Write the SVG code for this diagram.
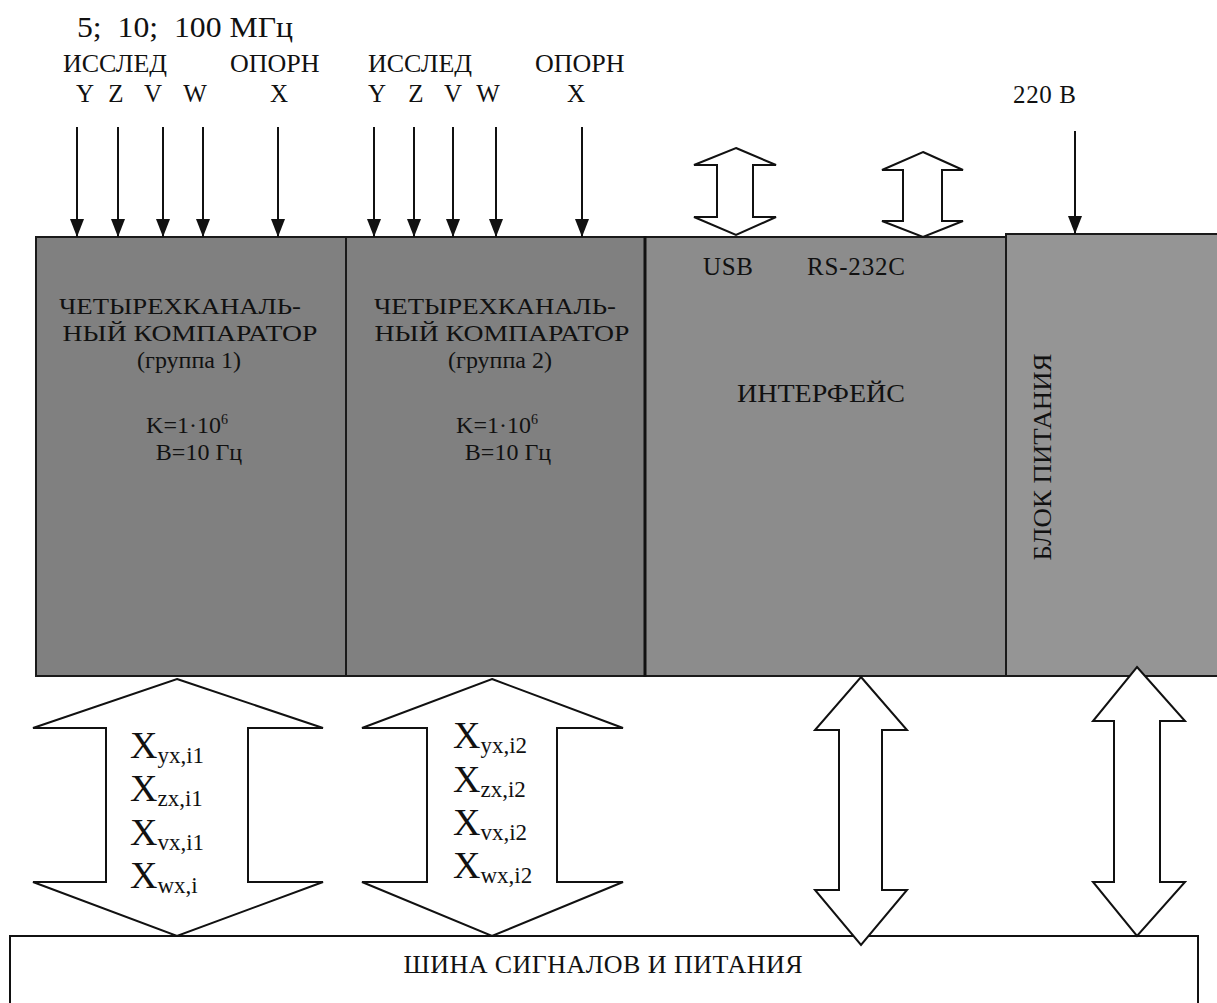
<svg xmlns="http://www.w3.org/2000/svg" width="1217" height="1003" viewBox="0 0 1217 1003">
<style>
text{font-family:"Liberation Serif","Times New Roman","DejaVu Serif",serif;fill:#111}
.t24{font-size:24px}
.t25{font-size:25px}
.t26{font-size:26px}
.mid{text-anchor:middle}
.box{stroke:#1a1a1a;stroke-width:2}
.ln{stroke:#111;stroke-width:2;fill:none}
.dbl{fill:#fff;stroke:#111;stroke-width:2;stroke-linejoin:miter}
.xl{font-size:38px}
.sub{font-size:23px}
</style>
<defs>
<marker id="ah" viewBox="0 0 18 14" refX="18" refY="7" markerWidth="18" markerHeight="14" markerUnits="userSpaceOnUse" orient="auto">
<path d="M0,0 L18,7 L0,14 Z" fill="#111"/>
</marker>
</defs>
<rect width="1217" height="1003" fill="#fff"/>

<g id="labels-top">
<text x="77" y="37" xml:space="preserve" style="font-size:30px" textLength="216" lengthAdjust="spacingAndGlyphs">5;  10;  100 МГц</text>
<text class="t26" x="63" y="72">ИССЛЕД</text>
<text class="t26" x="230" y="72">ОПОРН</text>
<text class="t26" x="368" y="72">ИССЛЕД</text>
<text class="t26" x="535" y="72">ОПОРН</text>
<g class="t25 mid">
<text x="85" y="102">Y</text><text x="116" y="102">Z</text><text x="153" y="102">V</text><text x="195" y="102">W</text><text x="279" y="102">X</text>
<text x="377" y="102">Y</text><text x="416" y="102">Z</text><text x="453" y="102">V</text><text x="488" y="102">W</text><text x="576" y="102">X</text>
</g>
<text class="t25" x="1013" y="103" textLength="63">220 В</text>
</g>

<g id="bus">
<rect x="10" y="936" width="1188" height="90" fill="#fff" stroke="#111" stroke-width="2"/>
<text class="t26 mid" x="603" y="973" textLength="399">ШИНА СИГНАЛОВ И ПИТАНИЯ</text>
</g>

<g id="comparator1">
<rect class="box" x="36" y="237" width="310" height="439" fill="#808080"/>
<g class="t24 mid">
<text x="180" y="314" textLength="242" lengthAdjust="spacingAndGlyphs">ЧЕТЫРЕХКАНАЛЬ-</text>
<text x="190" y="341" textLength="255" lengthAdjust="spacingAndGlyphs">НЫЙ КОМПАРАТОР</text>
<text x="189" y="368">(группа 1)</text>
<text x="187" y="433">K=1·10<tspan dy="-9" style="font-size:14px">6</tspan></text>
<text x="199" y="460">B=10 Гц</text>
</g>
</g>

<g id="comparator2">
<rect class="box" x="346" y="237" width="299" height="439" fill="#808080"/>
<g class="t24 mid">
<text x="495" y="314" textLength="242" lengthAdjust="spacingAndGlyphs">ЧЕТЫРЕХКАНАЛЬ-</text>
<text x="502" y="341" textLength="255" lengthAdjust="spacingAndGlyphs">НЫЙ КОМПАРАТОР</text>
<text x="500" y="368">(группа 2)</text>
<text x="497" y="433">K=1·10<tspan dy="-9" style="font-size:14px">6</tspan></text>
<text x="508" y="460">B=10 Гц</text>
</g>
</g>

<g id="interface">
<rect class="box" x="645" y="237" width="361" height="439" fill="#8c8c8c"/>
<line x1="645" y1="236" x2="645" y2="677" stroke="#111" stroke-width="3"/>
<text class="t25" x="703" y="275" textLength="50">USB</text>
<text class="t25" x="807" y="275" textLength="98">RS-232C</text>
<text class="t26" x="737" y="402" textLength="168" lengthAdjust="spacingAndGlyphs">ИНТЕРФЕЙС</text>
</g>

<g id="power">
<rect class="box" x="1006" y="234" width="215" height="442" fill="#959595"/>
<text class="t26 mid" transform="translate(1051,457) rotate(-90)" textLength="207" lengthAdjust="spacingAndGlyphs">БЛОК ПИТАНИЯ</text>
</g>

<g id="connectors">
<line class="ln" x1="77" y1="127" x2="77" y2="237" marker-end="url(#ah)"/>
<line class="ln" x1="118" y1="127" x2="118" y2="237" marker-end="url(#ah)"/>
<line class="ln" x1="163" y1="127" x2="163" y2="237" marker-end="url(#ah)"/>
<line class="ln" x1="203" y1="127" x2="203" y2="237" marker-end="url(#ah)"/>
<line class="ln" x1="278" y1="127" x2="278" y2="237" marker-end="url(#ah)"/>
<line class="ln" x1="374" y1="127" x2="374" y2="237" marker-end="url(#ah)"/>
<line class="ln" x1="414" y1="127" x2="414" y2="237" marker-end="url(#ah)"/>
<line class="ln" x1="453" y1="127" x2="453" y2="237" marker-end="url(#ah)"/>
<line class="ln" x1="496" y1="127" x2="496" y2="237" marker-end="url(#ah)"/>
<line class="ln" x1="582" y1="127" x2="582" y2="237" marker-end="url(#ah)"/>
<line class="ln" x1="1075" y1="131" x2="1075" y2="234" marker-end="url(#ah)"/>
<polygon class="dbl" points="736,148 776,165 753,165 753,217 776,217 736,235 694,217 717,217 717,165 694,165"/>
<polygon class="dbl" points="923,152 963,170 942,170 942,221 963,221 923,237 882,221 903,221 903,170 882,170"/>
<polygon class="dbl" points="177,679 323,728 248,728 248,882 323,882 177,936 33,882 106,882 106,728 33,728"/>
<polygon class="dbl" points="492,679 623,728 557,728 557,882 623,882 492,936 362,882 427,882 427,728 362,728"/>
<polygon class="dbl" points="861,677 907,730 882,730 882,890 907,890 861,945 815,890 839,890 839,730 815,730"/>
<polygon class="dbl" points="1137,667 1185,721 1160,721 1160,882 1185,882 1137,936 1093,882 1114,882 1114,721 1093,721"/>
</g>

<g id="bus-labels1">
<text x="130" y="758"><tspan class="xl">X</tspan><tspan class="sub" dy="5">yx,i1</tspan></text>
<text x="130" y="801"><tspan class="xl">X</tspan><tspan class="sub" dy="5">zx,i1</tspan></text>
<text x="130" y="845"><tspan class="xl">X</tspan><tspan class="sub" dy="5">vx,i1</tspan></text>
<text x="130" y="888"><tspan class="xl">X</tspan><tspan class="sub" dy="5">wx,i</tspan></text>
</g>
<g id="bus-labels2">
<text x="453" y="748"><tspan class="xl">X</tspan><tspan class="sub" dy="5">yx,i2</tspan></text>
<text x="453" y="792"><tspan class="xl">X</tspan><tspan class="sub" dy="5">zx,i2</tspan></text>
<text x="453" y="835"><tspan class="xl">X</tspan><tspan class="sub" dy="5">vx,i2</tspan></text>
<text x="453" y="878"><tspan class="xl">X</tspan><tspan class="sub" dy="5">wx,i2</tspan></text>
</g>
</svg>
